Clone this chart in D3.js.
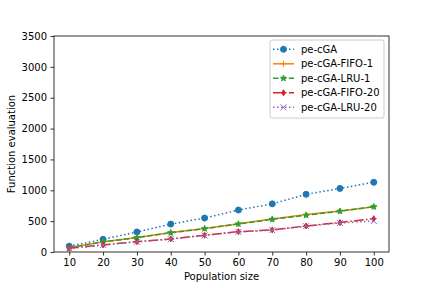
<!DOCTYPE html>
<html>
<head>
<meta charset="utf-8">
<script src="https://cdn.jsdelivr.net/npm/d3@7"></script>
<style>
  body { margin: 0; background: #fff; }
  svg { display: block; font-family: "DejaVu Sans", sans-serif; }
</style>
</head>
<body>
<svg width="432" height="288"></svg>
<script>
var popSizes = [10, 20, 30, 40, 50, 60, 70, 80, 90, 100];
var yTicks = [0, 500, 1000, 1500, 2000, 2500, 3000, 3500];

var peCGA     = [95, 205, 325, 452, 550, 680, 780, 935, 1030, 1130];
var fifo1     = [72, 165, 235, 315, 382, 458, 535, 608, 665, 735];
var lru1      = [70, 162, 232, 312, 378, 454, 530, 595, 662, 734];
var fifo20    = [60, 115, 168, 212, 272, 330, 358, 422, 478, 540];
var lru20     = [58, 112, 165, 208, 268, 326, 354, 418, 470, 502];

var seriesNames = ["pe-cGA", "pe-cGA-FIFO-1", "pe-cGA-LRU-1", "pe-cGA-FIFO-20", "pe-cGA-LRU-20"];

var series = [
  {name: seriesNames[0], values: peCGA,  color: "#1f77b4", dash: "1.5,2.5", marker: "circle"},
  {name: seriesNames[1], values: fifo1,  color: "#ff7f0e", dash: null,       marker: "plus"},
  {name: seriesNames[2], values: lru1,   color: "#2ca02c", dash: "5.5,2.4",  marker: "star"},
  {name: seriesNames[3], values: fifo20, color: "#d62728", dash: "9.6,2.4,1.5,2.4", marker: "thin_diamond"},
  {name: seriesNames[4], values: lru20,  color: "#9467bd", dash: "1.5,2.5",  marker: "x"}
];

var svg = d3.select("svg"),
    margin = {top: 36, right: 43, bottom: 36, left: 54},
    width = 432 - margin.left - margin.right,
    height = 288 - margin.top - margin.bottom,
    g = svg.append("g").attr("transform", "translate(" + margin.left + "," + margin.top + ")");

var x = d3.scaleLinear().domain([5.5, 104.5]).range([0, width]),
    y = d3.scaleLinear().domain([0, 3500]).range([height, 0]);

// axes
var xAxis = g.append("g")
    .attr("transform", "translate(0," + height + ")")
    .call(d3.axisBottom(x).tickValues(popSizes).tickSize(3.5).tickPadding(3.5).tickFormat(d3.format("d")));
var yAxis = g.append("g")
    .call(d3.axisLeft(y).tickValues(yTicks).tickSize(3.5).tickPadding(3.5).tickFormat(d3.format("d")));

[xAxis, yAxis].forEach(function(a) {
  a.select(".domain").remove();
  a.selectAll("line").attr("stroke", "#000").attr("stroke-width", 0.8);
  a.selectAll("text").attr("fill", "#000").style("font-size", "10px").style("font-family", "DejaVu Sans");
});

// frame
g.append("rect")
    .attr("width", width).attr("height", height)
    .attr("fill", "none").attr("stroke", "#000").attr("stroke-width", 0.8);

var line = d3.line()
    .x(function(d, i) { return x(popSizes[i]); })
    .y(function(d) { return y(d); });

function drawMarker(sel, type, color) {
  if (type === "circle") {
    sel.append("circle").attr("r", 3).attr("fill", color).attr("stroke", color);
  } else if (type === "plus") {
    sel.append("path").attr("d", "M-3,0H3M0,-3V3").attr("stroke", color).attr("stroke-width", 1).attr("fill", "none");
  } else if (type === "star") {
    var pts = [];
    for (var k = 0; k < 10; k++) {
      var r = k % 2 === 0 ? 3.2 : 1.3;
      var a = -Math.PI / 2 + k * Math.PI / 5;
      pts.push([r * Math.cos(a), r * Math.sin(a)]);
    }
    sel.append("path").attr("d", "M" + pts.join("L") + "Z").attr("fill", color).attr("stroke", color).attr("stroke-width", 1);
  } else if (type === "thin_diamond") {
    sel.append("path").attr("d", "M0,-3L1.8,0L0,3L-1.8,0Z").attr("fill", color).attr("stroke", color).attr("stroke-width", 1);
  } else if (type === "x") {
    sel.append("path").attr("d", "M-3,-3L3,3M-3,3L3,-3").attr("stroke", color).attr("stroke-width", 1).attr("fill", "none");
  }
}

var plot = g.selectAll(".series")
  .data(series)
  .enter().append("g")
    .attr("class", "series");

plot.append("path")
    .attr("d", function(d) { return line(d.values); })
    .attr("fill", "none")
    .attr("stroke", function(d) { return d.color; })
    .attr("stroke-width", 1.5)
    .attr("stroke-dasharray", function(d) { return d.dash; });

plot.each(function(s) {
  d3.select(this).selectAll(".pt")
    .data(s.values)
    .enter().append("g")
      .attr("transform", function(d, i) { return "translate(" + x(popSizes[i]) + "," + y(d) + ")"; })
      .each(function() { drawMarker(d3.select(this), s.marker, s.color); });
});

// legend
var legend = g.append("g").attr("transform", "translate(" + (width - 119) + ",4)");
legend.append("rect")
    .attr("width", 114).attr("height", 78).attr("rx", 2)
    .attr("fill", "#fff").attr("fill-opacity", 0.8)
    .attr("stroke", "#ccc").attr("stroke-width", 1);

var item = legend.selectAll(".item")
  .data(series)
  .enter().append("g")
    .attr("transform", function(d, i) { return "translate(3," + (9.3 + i * 14.5) + ")"; });

item.append("line")
    .attr("x1", 0).attr("x2", 21)
    .attr("stroke", function(d) { return d.color; })
    .attr("stroke-width", 1.5)
    .attr("stroke-dasharray", function(d) { return d.dash; });
item.append("g").attr("transform", "translate(10.5,0)")
    .each(function(d) { drawMarker(d3.select(this), d.marker, d.color); });
item.append("text")
    .attr("x", 28).attr("dy", "0.35em")
    .style("font-size", "10px")
    .text(function(d) { return d.name; });

// axis labels
svg.append("text")
    .attr("x", margin.left + width / 2).attr("y", 280)
    .attr("text-anchor", "middle").style("font-size", "10px")
    .text("Population size");
svg.append("text")
    .attr("transform", "translate(14.5," + (margin.top + height / 2) + ") rotate(-90)")
    .attr("text-anchor", "middle").style("font-size", "10px")
    .text("Function evaluation");
</script>
</body>
</html>
